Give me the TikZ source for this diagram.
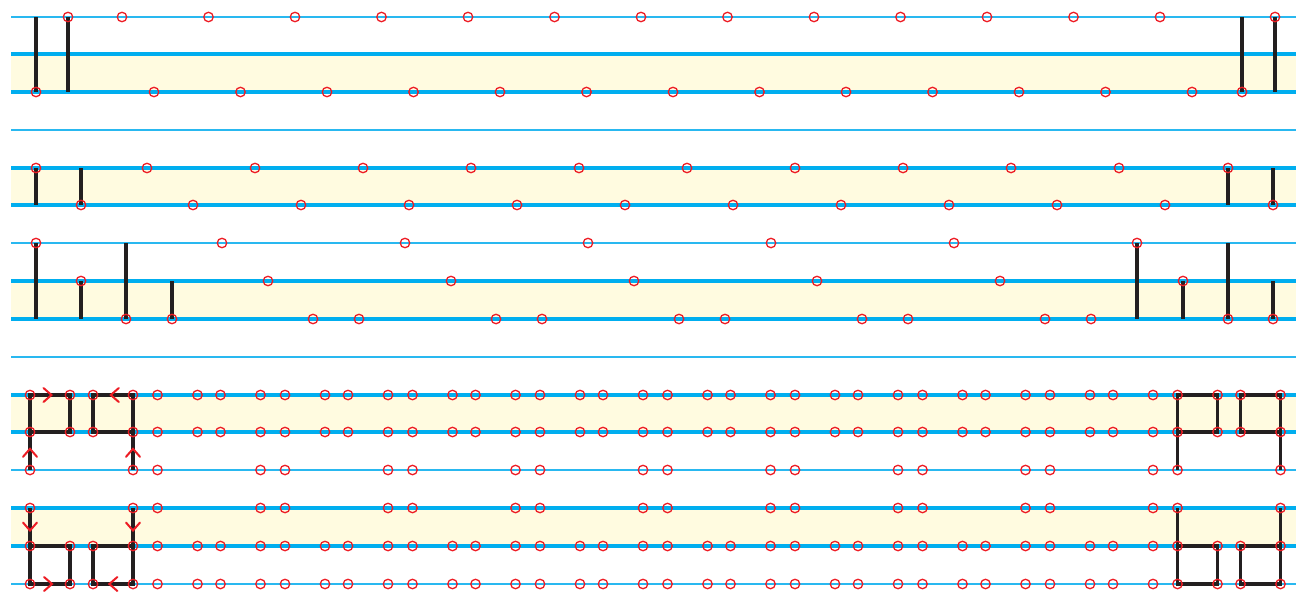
\documentclass[tikz,border=0pt]{standalone}
\usetikzlibrary{backgrounds}
\definecolor{cy}{HTML}{00AEEF}
\definecolor{cythin}{HTML}{29B8F0}
\definecolor{cream}{HTML}{FFFBE0}
\definecolor{ptred}{HTML}{ED1C24}
\definecolor{blk}{HTML}{231F20}
\begin{document}
\begin{tikzpicture}[x=1pt,y=-1pt,
  guidethin/.style={draw=cythin,line width=1.1pt},
  guidethick/.style={draw=cy,line width=3.2pt},
  pt/.style={circle,draw=ptred,line width=1.3pt,minimum size=9.5pt,inner sep=0pt},
  barv/.style={draw=blk,line width=4pt},
  edgeline/.style={draw=blk,line width=3.6pt,line join=miter},
  chev/.style={draw=ptred,line width=2pt,line cap=round,line join=miter}]
\useasboundingbox (0,0) rectangle (1302,594);
\begin{scope}[on background layer]
  \foreach \ya/\yb in {54/92,168/205,281/319,395/432,508/546}
    \fill[cream] (11,\ya) rectangle (1296,\yb);
  \foreach \y in {17,130,243,357,470,584}
    \draw[guidethin] (11,\y) -- (1296,\y);
  \foreach \y in {54,92,168,205,281,319,395,432,508,546}
    \draw[guidethick] (11,\y) -- (1296,\y);
\end{scope}
% ---- row 1
\foreach \i in {0,...,12}{
  \node[pt] (a\i) at ({122+86.5*\i},17) {};
  \node[pt] (b\i) at ({154+86.5*\i},92) {};}
\node[pt] (aL) at (68,17) {};
\node[pt] (aR) at (1275,17) {};
\node[pt] (bL) at (36,92) {};
\node[pt] (bR) at (1242,92) {};
\coordinate (ta1) at (36,17);
\coordinate (ta2) at (68,92);
\coordinate (ta3) at (1242,17);
\coordinate (ta4) at (1275,92);
% ---- row 2
\foreach \i in {0,...,9}{
  \node[pt] (c\i) at ({147+108*\i},168) {};
  \node[pt] (d\i) at ({193+108*\i},205) {};}
\node[pt] (cL) at (36,168) {};
\node[pt] (cR) at (1228,168) {};
\node[pt] (dL) at (81,205) {};
\node[pt] (dR) at (1273,205) {};
\coordinate (tb1) at (36,205);
\coordinate (tb2) at (81,168);
\coordinate (tb3) at (1228,205);
\coordinate (tb4) at (1273,168);
% ---- row 3
\foreach \i in {0,...,5}{
  \node[pt] (e\i) at ({222+183*\i},243) {};
  \node[pt] (f\i) at ({268+183*\i},281) {};}
\foreach \i in {0,...,4}{
  \node[pt] (g\i) at ({313+183*\i},319) {};
  \node[pt] (h\i) at ({359+183*\i},319) {};}
\node[pt] (eL) at (36,243) {};
\node[pt] (fL) at (81,281) {};
\node[pt] (gL1) at (126,319) {};
\node[pt] (gL2) at (172,319) {};
\node[pt] (gR1) at (1228,319) {};
\node[pt] (gR2) at (1273,319) {};
\coordinate (tc1) at (36,319);
\coordinate (tc2) at (81,319);
\coordinate (tc3) at (126,243);
\coordinate (tc4) at (172,281);
\coordinate (tc5) at (1137,319);
\coordinate (tc6) at (1183,319);
\coordinate (tc7) at (1228,243);
\coordinate (tc8) at (1273,281);
% ---- rows 4 and 5
\foreach \k in {0,...,9}{
  \foreach \j/\o in {0/0,1/40,2/63,3/103}{
    \node[pt] (p\k-\j) at ({30+127.5*\k+\o},395) {};
    \node[pt] (q\k-\j) at ({30+127.5*\k+\o},432) {};
    \node[pt] (s\k-\j) at ({30+127.5*\k+\o},546) {};
    \node[pt] (u\k-\j) at ({30+127.5*\k+\o},584) {};}
  \foreach \j/\o in {0/0,3/103}{
    \node[pt] (r\k-\j) at ({30+127.5*\k+\o},470) {};
    \node[pt] (t\k-\j) at ({30+127.5*\k+\o},508) {};}}
% ---- bars and boxes
\begin{scope}[on background layer]
  \draw[barv] (ta1) -- (bL.center);
  \draw[barv] (aL.center) -- (ta2);
  \draw[barv] (ta3) -- (bR.center);
  \draw[barv] (aR.center) -- (ta4);
  \draw[barv] (cL.center) -- (tb1);
  \draw[barv] (tb2) -- (dL.center);
  \draw[barv] (cR.center) -- (tb3);
  \draw[barv] (tb4) -- (dR.center);
  \draw[barv] (eL.center) -- (tc1);
  \draw[barv] (fL.center) -- (tc2);
  \draw[barv] (tc3) -- (gL1.center);
  \draw[barv] (tc4) -- (gL2.center);
  \draw[barv] (e5.center) -- (tc5);
  \draw[barv] (f5.center) -- (tc6);
  \draw[barv] (tc7) -- (gR1.center);
  \draw[barv] (tc8) -- (gR2.center);
  \foreach \k in {0,9}{
    \draw[edgeline] (p\k-0.center) -- (p\k-1.center) -- (q\k-1.center) -- (q\k-0.center) -- cycle;
    \draw[edgeline] (p\k-2.center) -- (p\k-3.center) -- (q\k-3.center) -- (q\k-2.center) -- cycle;
    \draw[edgeline] (q\k-0.center) -- (r\k-0.center);
    \draw[edgeline] (q\k-3.center) -- (r\k-3.center);
    \draw[edgeline] (s\k-0.center) -- (s\k-1.center) -- (u\k-1.center) -- (u\k-0.center) -- cycle;
    \draw[edgeline] (s\k-2.center) -- (s\k-3.center) -- (u\k-3.center) -- (u\k-2.center) -- cycle;
    \draw[edgeline] (t\k-0.center) -- (s\k-0.center);
    \draw[edgeline] (t\k-3.center) -- (s\k-3.center);}
\end{scope}
% ---- chevrons
\path (p0-0) -- (p0-1) coordinate[pos=0.55] (k1);
\path (p0-2) -- (p0-3) coordinate[pos=0.425] (k2);
\path (r0-0) -- (q0-0) coordinate[pos=0.58] (k3);
\path (r0-3) -- (q0-3) coordinate[pos=0.58] (k4);
\path (t0-0) -- (s0-0) coordinate[pos=0.63] (k5);
\path (t0-3) -- (s0-3) coordinate[pos=0.63] (k6);
\path (u0-0) -- (u0-1) coordinate[pos=0.57] (k7);
\path (u0-2) -- (u0-3) coordinate[pos=0.375] (k8);
\draw[chev] (k1) ++(-8,-7) -- ++(8,7) -- ++(-8,7);
\draw[chev] (k2) ++(8,-7) -- ++(-8,7) -- ++(8,7);
\draw[chev] (k3) ++(-7,8) -- ++(7,-8) -- ++(7,8);
\draw[chev] (k4) ++(-7,8) -- ++(7,-8) -- ++(7,8);
\draw[chev] (k5) ++(-7,-8) -- ++(7,8) -- ++(7,-8);
\draw[chev] (k6) ++(-7,-8) -- ++(7,8) -- ++(7,-8);
\draw[chev] (k7) ++(-8,-7) -- ++(8,7) -- ++(-8,7);
\draw[chev] (k8) ++(8,-7) -- ++(-8,7) -- ++(8,7);
\end{tikzpicture}
\end{document}
